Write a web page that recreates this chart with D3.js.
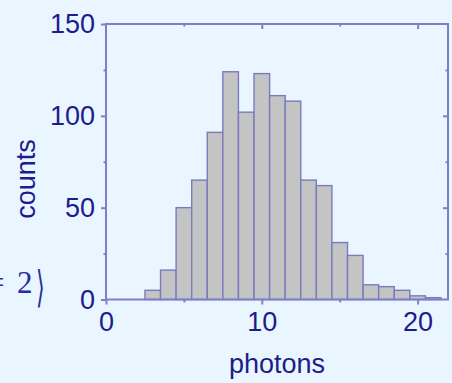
<!DOCTYPE html>
<html><head><meta charset="utf-8">
<script src="https://cdn.jsdelivr.net/npm/d3@7"></script>
<style>
html,body{margin:0;padding:0;background:#eaf6ff;}
svg{display:block;}
</style></head>
<body>
<script>
// data
const photonBins = [3,4,5,6,7,8,9,10,11,12,13,14,15,16,17,18,19,20,21];
const counts     = [5,16,50,65,91,124,102,123,111,108,65,62,31,24,8,7,5,2,1];
const xTickLabels = [0,10,20];
const yTickLabels = [0,50,100,150];

const W = 452, H = 383;
const axisColor = "#7e7fc6";
const textColor = "#1c1c8c";

const svg = d3.select("body").append("svg").attr("width", W).attr("height", H);
svg.append("rect").attr("width", W).attr("height", H).attr("fill", "#eaf6ff");

const x = d3.scaleLinear().domain([0, 21.95]).range([106, 448]);
const y = d3.scaleLinear().domain([0, 150]).range([299.5, 24]);

// bars
svg.append("g").selectAll("rect").data(photonBins).join("rect")
  .attr("x", d => x(d - 0.5))
  .attr("width", d => x(d + 0.5) - x(d - 0.5))
  .attr("y", (d, i) => y(counts[i]))
  .attr("height", (d, i) => y(0) - y(counts[i]))
  .attr("fill", "#c4c4c4")
  .attr("stroke", "#7a7bbf")
  .attr("stroke-width", 1.4);

// frame
svg.append("rect")
  .attr("x", x(0)).attr("y", y(150))
  .attr("width", x.range()[1] - x(0)).attr("height", y(0) - y(150))
  .attr("fill", "none").attr("stroke", axisColor).attr("stroke-width", 2);

function styleAxis(g) {
  g.select(".domain").remove();
  g.selectAll(".tick line").attr("stroke", axisColor).attr("stroke-width", 2);
  g.selectAll(".tick text").attr("fill", textColor)
    .attr("font-family", "Liberation Sans, Arial, sans-serif").attr("font-size", 27);
}

// bottom axis (outward ticks)
svg.append("g").attr("transform", `translate(0,${y(0)})`)
  .call(d3.axisBottom(x).tickValues(xTickLabels).tickSize(5).tickPadding(7).tickFormat(d3.format("d")))
  .call(styleAxis);
svg.append("g").attr("transform", `translate(0,${y(0)})`)
  .call(d3.axisBottom(x).tickValues([5, 15]).tickSize(3).tickFormat(""))
  .call(styleAxis);
// top axis (inward ticks)
svg.append("g").attr("transform", `translate(0,${y(150)})`)
  .call(d3.axisBottom(x).tickValues(xTickLabels.slice(1)).tickSize(5).tickFormat(""))
  .call(styleAxis);
svg.append("g").attr("transform", `translate(0,${y(150)})`)
  .call(d3.axisBottom(x).tickValues([5, 15]).tickSize(2.5).tickFormat(""))
  .call(styleAxis);
// left axis (outward)
svg.append("g").attr("transform", `translate(${x(0)},0)`)
  .call(d3.axisLeft(y).tickValues(yTickLabels).tickSize(5).tickPadding(6).tickFormat(d3.format("d")))
  .call(styleAxis);
svg.append("g").attr("transform", `translate(${x(0)},0)`)
  .call(d3.axisLeft(y).tickValues([25, 75, 125]).tickSize(2.5).tickFormat(""))
  .call(styleAxis);
// right axis (inward)
svg.append("g").attr("transform", `translate(${x.range()[1]},0)`)
  .call(d3.axisLeft(y).tickValues(yTickLabels.slice(1, 3)).tickSize(5).tickFormat(""))
  .call(styleAxis);
svg.append("g").attr("transform", `translate(${x.range()[1]},0)`)
  .call(d3.axisLeft(y).tickValues([25, 75, 125]).tickSize(2.5).tickFormat(""))
  .call(styleAxis);

// axis titles
svg.append("text").attr("x", 277).attr("y", 373).attr("text-anchor", "middle")
  .attr("fill", textColor).attr("font-family", "Liberation Sans, Arial, sans-serif")
  .attr("font-size", 27).text("photons");
svg.append("text").attr("transform", "translate(35,179) rotate(-90)").attr("text-anchor", "middle")
  .attr("fill", textColor).attr("font-family", "Liberation Sans, Arial, sans-serif")
  .attr("font-size", 27).text("counts");

// partial math label at left edge
const mathColor = "#2b2ba3";
svg.append("text").attr("x", -13).attr("y", 293).attr("fill", mathColor)
  .attr("font-family", "Liberation Serif, Times New Roman, serif").attr("font-size", 31).text("=");
svg.append("text").attr("x", 17).attr("y", 293).attr("fill", mathColor)
  .attr("font-family", "Liberation Serif, Times New Roman, serif").attr("font-size", 31).text("2");
svg.append("text").attr("transform", "translate(36,302) scale(0.7,1.35)").attr("fill", mathColor)
  .attr("font-family", "DejaVu Sans, sans-serif").attr("font-size", 32).text("⟩");
</script>
</body></html>
